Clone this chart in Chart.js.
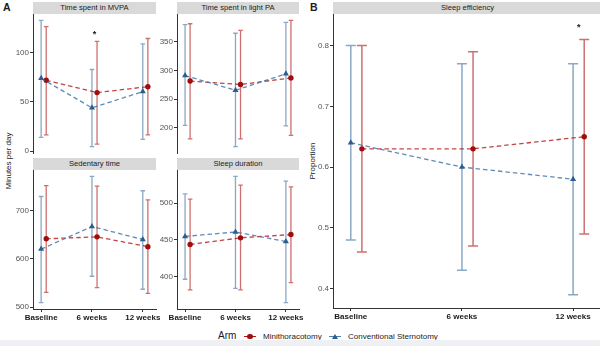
<!DOCTYPE html>
<html>
<head>
<meta charset="utf-8">
<script src="https://cdn.jsdelivr.net/npm/chart.js@4.4.1/dist/chart.umd.min.js"></script>
<style>
  html, body { margin: 0; padding: 0; background: #fff; }
  body { width: 600px; height: 346px; position: relative; overflow: hidden;
         font-family: "Liberation Sans", Arial, sans-serif; color: #1a1a1a; }
  canvas { position: absolute; }
  .strip { position: absolute; background: #d9d9d9; font-size: 7.6px; text-align: center; line-height: 12px; height: 12px; }
  .tag { position: absolute; font-weight: bold; font-size: 10.5px; }
  .ytitle { position: absolute; font-size: 8px; white-space: nowrap; transform: translate(-50%, -50%) rotate(-90deg); }
  .lg { position: absolute; font-size: 8px; line-height: 10px; top: 331.5px; }
  .key-line { position: absolute; height: 1.4px; width: 12px; top: 335.8px; }
  .key-dot { position: absolute; width: 5.4px; height: 5.4px; border-radius: 50%; background: #a10d0d; top: 333.8px; left: 247.3px; }
  .key-tri { position: absolute; width: 0; height: 0; top: 333.5px; left: 331.5px;
             border-left: 3px solid transparent; border-right: 3px solid transparent; border-bottom: 5px solid #2c5d8c; }
  .band { position: absolute; left: 0; top: 340px; width: 600px; height: 6px; background: #eef0f4; }
</style>
</head>
<body>
<div class="tag" style="left:3px; top:1px;">A</div>
<div class="tag" style="left:310px; top:1px;">B</div>
<div class="ytitle" style="left:8px; top:161px;">Minutes per day</div>
<div class="ytitle" style="left:311.5px; top:161px;">Proportion</div>

<div class="lg" style="left:218px; font-size:10px; top:331px;">Arm</div>
<div class="key-line" style="left:244px; background:#b01818;"></div>
<div class="key-dot"></div>
<div class="lg" style="left:263px;">Minithoracotomy</div>
<div class="key-line" style="left:329px; background:#4f7fae;"></div>
<div class="key-tri"></div>
<div class="lg" style="left:348px;">Conventional Sternotomy</div>
<div class="band"></div>

<script>
const WEEKS = ['Baseline', '6 weeks', '12 weeks'];

// Time spent in MVPA (minutes per day)
const MVPA_MT    = [72, 59.5, 65.5];
const MVPA_MT_LO = [16.5, 7, 16.5];
const MVPA_MT_HI = [126.5, 111.5, 114.5];
const MVPA_CS    = [74, 44, 60.5];
const MVPA_CS_LO = [14, 4.5, 12];
const MVPA_CS_HI = [133, 83, 109];
const MVPA_TICKS = [0, 50, 100];

// Time spent in light PA
const LPA_MT    = [281.5, 275.5, 287];
const LPA_MT_LO = [181, 181, 187];
const LPA_MT_HI = [381, 369.5, 387];
const LPA_CS    = [291, 265.5, 294];
const LPA_CS_LO = [204.5, 167.5, 203.5];
const LPA_CS_HI = [379.5, 364.5, 383.5];
const LPA_TICKS = [200, 250, 300, 350];

// Sedentary time
const SED_MT    = [642, 646, 625.5];
const SED_MT_LO = [530.5, 540.5, 528.5];
const SED_MT_HI = [752.5, 751.5, 723];
const SED_CS    = [620.5, 667.5, 640.5];
const SED_CS_LO = [509, 564, 537];
const SED_CS_HI = [730, 772, 742];
const SED_TICKS = [500, 600, 700];

// Sleep duration
const SLD_MT    = [443.5, 452.5, 457];
const SLD_MT_LO = [381.5, 381.5, 391.5];
const SLD_MT_HI = [505.5, 524.5, 522];
const SLD_CS    = [454.5, 460.5, 447.5];
const SLD_CS_LO = [396, 383.5, 364];
const SLD_CS_HI = [512.5, 536.5, 530];
const SLD_TICKS = [400, 450, 500];

// Sleep efficiency (proportion)
const SLE_MT    = [0.63, 0.63, 0.65];
const SLE_MT_LO = [0.46, 0.47, 0.49];
const SLE_MT_HI = [0.80, 0.79, 0.81];
const SLE_CS    = [0.64, 0.60, 0.58];
const SLE_CS_LO = [0.48, 0.43, 0.39];
const SLE_CS_HI = [0.80, 0.77, 0.77];
const SLE_TICKS = [0.4, 0.5, 0.6, 0.7, 0.8];

// significance marks: [week index, height]
const MVPA_STAR = [1, 119];
const SLE_STAR  = [2, 0.83];

const MT_SHIFT = 0.1;      // minithoracotomy drawn just right of each week
const X_MIN = -0.16, X_MAX = 2.26;
const CAP = 0.09;          // error bar cap width in x units

const RED = { point: '#a10d0d', bar: 'rgba(176,24,24,0.62)', line: 'rgba(176,24,24,0.8)' };
const BLUE = { point: '#2c5d8c', bar: 'rgba(60,110,160,0.6)', line: 'rgba(60,110,160,0.8)' };

Chart.defaults.font.family = '"Liberation Sans", Arial, sans-serif';

const YW = 36, PAD = 8, PAD_R = 24, XH = 20;

const errorBars = {
  id: 'errorBars',
  beforeDatasetsDraw(chart, args, opts) {
    const { ctx, scales: { x, y } } = chart;
    const half = (x.getPixelForValue(CAP) - x.getPixelForValue(0)) / 2;
    chart.data.datasets.forEach(ds => {
      ctx.save();
      ctx.strokeStyle = ds.barColor;
      ctx.lineWidth = opts.width;
      ds.data.forEach((p, i) => {
        const px = x.getPixelForValue(p.x);
        const top = y.getPixelForValue(ds.hi[i]);
        const bot = y.getPixelForValue(ds.lo[i]);
        ctx.beginPath();
        ctx.moveTo(px, top); ctx.lineTo(px, bot);
        ctx.moveTo(px - half, top); ctx.lineTo(px + half, top);
        ctx.moveTo(px - half, bot); ctx.lineTo(px + half, bot);
        ctx.stroke();
      });
      ctx.restore();
    });
  },
  afterDatasetsDraw(chart, args, opts) {
    if (!opts.star) return;
    const { ctx, scales: { x, y } } = chart;
    const [i, v] = opts.star;
    ctx.save();
    ctx.fillStyle = '#1a1a1a';
    ctx.font = 'bold 9px "Liberation Sans", Arial, sans-serif';
    ctx.textAlign = 'center';
    ctx.textBaseline = 'middle';
    ctx.fillText('*', x.getPixelForValue(i + MT_SHIFT / 2), y.getPixelForValue(v));
    ctx.restore();
  }
};

function series(label, mean, lo, hi, shift, col, style) {
  return {
    label,
    data: mean.map((v, i) => ({ x: i + shift, y: v })),
    lo, hi,
    barColor: col.bar,
    borderColor: col.line,
    borderWidth: 1.3,
    borderDash: [4.5, 3],
    pointStyle: style,
    pointRadius: style === 'triangle' ? 3.5 : 2.7,
    pointBackgroundColor: col.point,
    pointBorderColor: col.point,
    pointBorderWidth: 0,
    tension: 0,
    fill: false
  };
}

function xAxis(showX) {
  if (!showX) {
    return { type: 'linear', min: X_MIN, max: X_MAX, display: false, afterFit: s => { s.height = 0; } };
  }
  return {
    type: 'linear',
    min: X_MIN,
    max: X_MAX,
    afterFit: s => { s.height = XH; },
    afterBuildTicks: s => { s.ticks = WEEKS.map((_, i) => ({ value: i })); },
    grid: { drawOnChartArea: false, tickLength: 3, color: '#333' },
    border: { color: '#333', width: 1 },
    ticks: {
      autoSkip: false, maxRotation: 0, padding: 1,
      color: '#1a1a1a', font: { size: 8, weight: 'bold' },
      callback: v => WEEKS[v]
    }
  };
}

function facet(box, title, mt, cs, ticks, star, showX, barWidth, layer) {
  const strip = document.createElement('div');
  strip.className = 'strip';
  strip.textContent = title;
  Object.assign(strip.style, {
    left: box.l + 'px', top: (box.t - 12) + 'px', width: (box.r - box.l) + 'px'
  });
  document.body.appendChild(strip);

  const canvas = document.createElement('canvas');
  canvas.width = box.r - box.l + YW + PAD_R;
  canvas.height = box.b - box.t + PAD + (showX ? XH : PAD);
  canvas.style.left = (box.l - YW) + 'px';
  canvas.style.top = (box.t - PAD) + 'px';
  canvas.style.zIndex = layer;
  document.body.appendChild(canvas);

  // y range spans every bar end and the significance mark, plus 5% each side
  const lo = Math.min(...mt[1], ...cs[1]);
  const hi = Math.max(...mt[2], ...cs[2], star ? star[1] : -Infinity);
  const grow = (hi - lo) * 0.05;

  new Chart(canvas, {
    type: 'line',
    data: {
      datasets: [
        series('Conventional Sternotomy', cs[0], cs[1], cs[2], 0, BLUE, 'triangle'),
        series('Minithoracotomy', mt[0], mt[1], mt[2], MT_SHIFT, RED, 'circle')
      ]
    },
    options: {
      responsive: false,
      animation: false,
      devicePixelRatio: 1,
      layout: { padding: { left: 0, top: PAD, right: PAD_R, bottom: showX ? 0 : PAD } },
      plugins: {
        legend: { display: false },
        tooltip: { enabled: false },
        errorBars: { width: barWidth, star }
      },
      scales: {
        x: xAxis(showX),
        y: {
          min: lo - grow,
          max: hi + grow,
          afterFit: s => { s.width = YW; },
          afterBuildTicks: s => { s.ticks = ticks.map(v => ({ value: v })); },
          grid: { drawOnChartArea: false, tickLength: 3, color: '#333' },
          border: { color: '#333', width: 1 },
          ticks: {
            z: 1, autoSkip: false, padding: 1,
            color: '#555', font: { size: 8 },
            callback: v => String(v)
          }
        }
      }
    },
    plugins: [errorBars]
  });
}

// top row sits above the bottom row so its lowest tick label stays clear
facet({ l: 33, r: 156, t: 14, b: 153 }, 'Time spent in MVPA',
  [MVPA_MT, MVPA_MT_LO, MVPA_MT_HI], [MVPA_CS, MVPA_CS_LO, MVPA_CS_HI], MVPA_TICKS, MVPA_STAR, false, 1.3, 3);
facet({ l: 177, r: 299, t: 14, b: 153 }, 'Time spent in light PA',
  [LPA_MT, LPA_MT_LO, LPA_MT_HI], [LPA_CS, LPA_CS_LO, LPA_CS_HI], LPA_TICKS, null, false, 1.3, 3);
facet({ l: 33, r: 156, t: 170, b: 309 }, 'Sedentary time',
  [SED_MT, SED_MT_LO, SED_MT_HI], [SED_CS, SED_CS_LO, SED_CS_HI], SED_TICKS, null, true, 1.3, 2);
facet({ l: 177, r: 299, t: 170, b: 309 }, 'Sleep duration',
  [SLD_MT, SLD_MT_LO, SLD_MT_HI], [SLD_CS, SLD_CS_LO, SLD_CS_HI], SLD_TICKS, null, true, 1.3, 2);
facet({ l: 333, r: 602, t: 14, b: 308 }, 'Sleep efficiency',
  [SLE_MT, SLE_MT_LO, SLE_MT_HI], [SLE_CS, SLE_CS_LO, SLE_CS_HI], SLE_TICKS, SLE_STAR, true, 1.5, 1);
</script>
</body>
</html>
